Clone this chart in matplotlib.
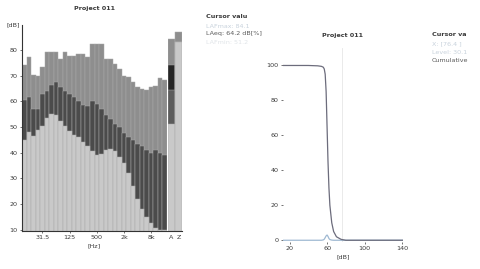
import matplotlib
matplotlib.use("Agg")
import matplotlib.pyplot as plt

# 1/3-octave bands 12.5 Hz .. 16 kHz
bands = ["12.5", "16", "20", "25", "31.5", "40", "50", "63", "80", "100",
         "125", "160", "200", "250", "315", "400", "500", "630", "800", "1k",
         "1.25k", "1.6k", "2k", "2.5k", "3.15k", "4k", "5k", "6.3k", "8k", "10k",
         "12.5k", "16k"]
lmax = [74.2, 77.2, 70.3, 70.0, 73.5, 79.0, 79.0, 79.0, 76.5, 79.0,
        77.5, 77.7, 78.3, 78.3, 77.3, 82.2, 82.2, 82.2, 76.5, 76.5,
        74.6, 72.6, 70.0, 69.4, 67.5, 65.5, 64.8, 64.5, 65.5, 66.0,
        69.0, 68.3]
leq = [60.5, 61.5, 57.0, 57.0, 63.0, 64.0, 66.5, 67.5, 65.5, 64.0,
       63.0, 61.5, 60.0, 58.5, 58.0, 60.0, 59.0, 57.0, 54.5, 53.0,
       51.0, 50.0, 47.5, 46.0, 45.0, 43.5, 42.5, 41.0, 40.0, 41.0,
       40.0, 39.0]
lmin = [45.0, 48.0, 46.5, 49.0, 50.5, 53.5, 55.0, 54.5, 52.5, 50.5,
        48.5, 47.0, 46.0, 44.0, 42.5, 40.5, 39.0, 39.5, 41.0, 41.5,
        40.5, 38.5, 36.0, 32.0, 27.0, 22.0, 18.0, 15.0, 12.5, 10.8,
        10.0, 10.0]
freq_ticks = ["31.5", "125", "500", "2k", "8k"]

# broadband A / Z
total_labels = ["A", "Z"]
total_max = [84.1, 87.0]
total_hold = [74.0, 83.0]
total_eq = [64.2, 83.0]
total_min = [51.2, 83.0]

# statistics (right chart)
stat_level = [13, 40, 50, 54, 56, 57, 58, 59, 60, 61, 62, 63, 65, 67, 70, 75, 80, 141]
stat_cumulative = [100, 100, 99.8, 99.5, 99, 98, 95, 85, 65, 45, 30, 20, 10, 5, 2, 0.5, 0, 0]
stat_distribution = [0, 0, 0, 0, 0.2, 0.6, 1.5, 2.5, 3.0, 2.2, 1.0, 0.4, 0.1, 0, 0, 0, 0, 0]
cursor_level = 76.4
stat_ticks = [20, 60, 100, 140]

C_MAX = "#8e8e8e"
C_EQ = "#4b4b4b"
C_MIN = "#c9c9c9"
C_HOLD = "#262626"
TXT = "#3a3a3a"
FS = 4.6

fig = plt.figure(figsize=(4.8, 2.69), dpi=100)
fig.patch.set_facecolor("white")


def px(x, y, w, h):
    return [x / 480, (269 - y - h) / 269, w / 480, h / 269]


# left: spectrum
ax = fig.add_axes(px(22, 25, 145, 206))
x = list(range(len(bands)))
for vals, col in [(lmax, C_MAX), (leq, C_EQ), (lmin, C_MIN)]:
    ax.bar(x, vals, width=1.0, color=col, edgecolor="#a9a9a9", linewidth=0.35)
ax.set_xlim(-0.5, len(bands) - 0.5)
ax.set_ylim(9.5, 89.7)
ax.set_yticks(range(10, 90, 10))
ax.set_xticks([bands.index(t) for t in freq_ticks], freq_ticks)
ax.tick_params(labelsize=FS, colors=TXT, length=1.5, width=0.5, pad=1.5)
for s in ["top", "right"]:
    ax.spines[s].set_visible(False)
for s in ["left", "bottom"]:
    ax.spines[s].set_color("#333333")
    ax.spines[s].set_linewidth(0.8)
ax.set_title("Project 011", fontsize=FS, fontweight="bold", color=TXT, pad=11)
ax.set_xlabel("[Hz]", fontsize=FS, color=TXT, labelpad=2)
fig.text(13 / 480, 1 - 25 / 269, "[dB]", fontsize=FS, color=TXT, ha="center", va="center")

# A / Z totals
az = fig.add_axes(px(168, 25, 14, 206))
xt = list(range(len(total_labels)))
for vals, col in [(total_max, C_MAX), (total_hold, C_HOLD), (total_eq, "#5c5c5c"), (total_min, C_MIN)]:
    az.bar(xt, vals, width=1.0, color=col, edgecolor="#a9a9a9", linewidth=0.35)
az.set_xlim(-0.5, 1.5)
az.set_ylim(9.5, 89.7)
az.set_yticks([])
az.set_xticks(xt, total_labels)
az.tick_params(labelsize=FS, colors=TXT, length=0, pad=3)
for s in ["top", "right", "left"]:
    az.spines[s].set_visible(False)
az.spines["bottom"].set_color("#333333")

# right: statistics
ax2 = fig.add_axes(px(283, 48, 120, 194))
ax2.axvline(cursor_level, color="#e6e6e6", linewidth=0.6)
ax2.plot(stat_level, stat_distribution, color="#9fb9d2", linewidth=0.9)
ax2.plot(stat_level, stat_cumulative, color="#6c6c7c", linewidth=0.9)
ax2.set_xlim(13, 141)
ax2.set_ylim(-1, 110)
ax2.set_xticks(stat_ticks)
ax2.set_yticks(range(0, 101, 20))
ax2.tick_params(labelsize=FS, colors=TXT, length=1.5, width=0.5, pad=1.5)
for s in ax2.spines.values():
    s.set_visible(False)
ax2.set_title("Project 011", fontsize=FS, fontweight="bold", color=TXT, pad=8)
ax2.set_xlabel("[dB]", fontsize=FS, color=TXT, labelpad=2)

# cursor value panels
fig.text(206 / 480, 1 - 17 / 269, "Cursor valu", fontsize=FS, fontweight="bold", color=TXT, va="center")
fig.text(206 / 480, 1 - 26 / 269, "LAFmax: 84.1", fontsize=FS, color="#c8d2dc", va="center")
fig.text(206 / 480, 1 - 34 / 269, "LAeq: 64.2 dB[%]", fontsize=FS, color="#5a5a5a", va="center")
fig.text(206 / 480, 1 - 43 / 269, "LAFmin: 51.2", fontsize=FS, color="#e0e4e8", va="center")

fig.text(432 / 480, 1 - 35 / 269, "Cursor va", fontsize=FS, fontweight="bold", color=TXT, va="center")
fig.text(432 / 480, 1 - 44 / 269, "X: [76.4 ]", fontsize=FS, color="#c8d2dc", va="center")
fig.text(432 / 480, 1 - 52 / 269, "Level: 30.1", fontsize=FS, color="#c8d2dc", va="center")
fig.text(432 / 480, 1 - 60 / 269, "Cumulative", fontsize=FS, color="#5a5a5a", va="center")

fig.savefig("out.png", dpi=100)
